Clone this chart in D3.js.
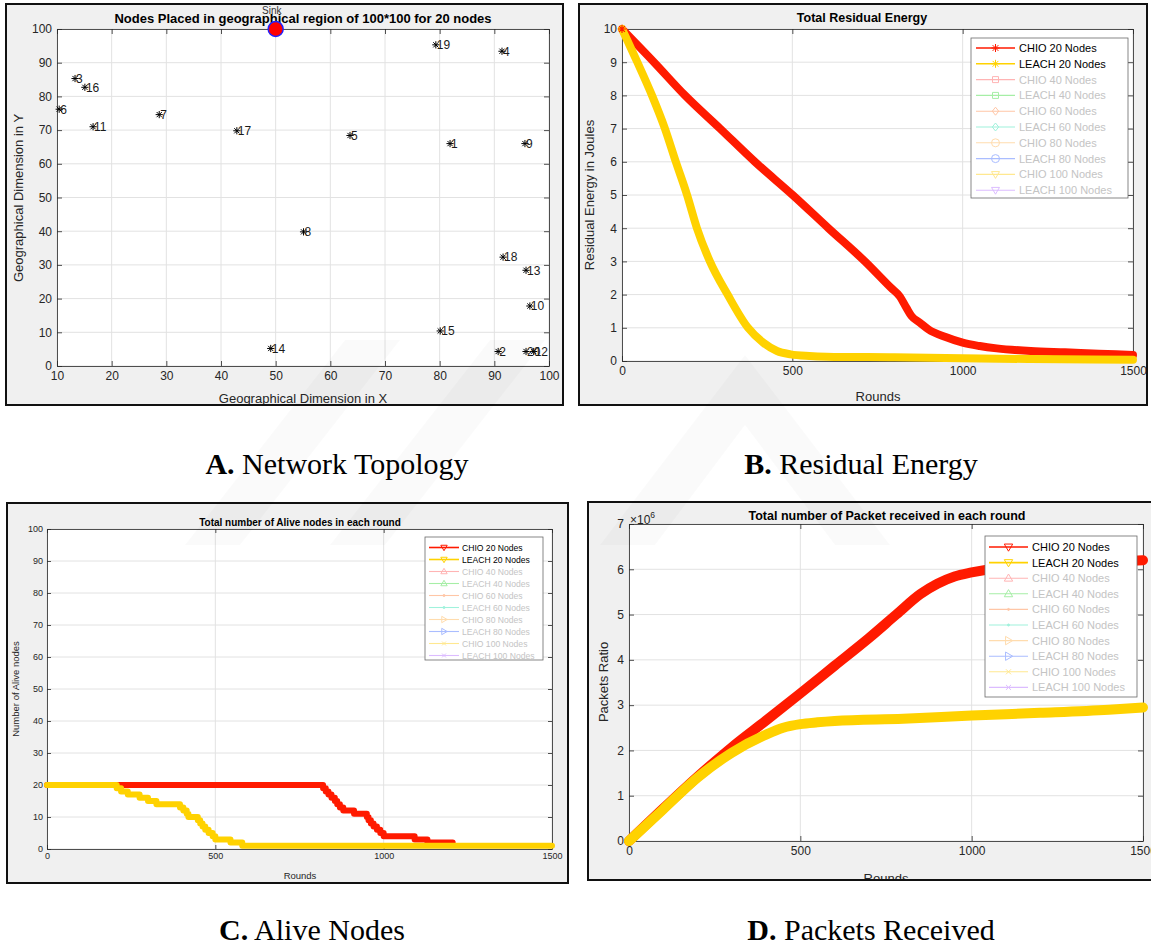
<!DOCTYPE html>
<html>
<head>
<meta charset="utf-8">
<script src="https://cdn.jsdelivr.net/npm/d3@7"></script>
<style>
  body { margin: 0; background: #fff; }
  svg { display: block; }
</style>
</head>
<body>
<script>
const W = 1151, H = 947;
const SANS = '"Liberation Sans", Arial, Helvetica, sans-serif';
const SERIF = '"Liberation Serif", "Times New Roman", serif';

// ---------- A: node placement ----------
const nodeIds = d3.range(1, 21);
const nodeX = [81.9, 90.7, 13.3, 91.4, 63.6, 10.4, 28.7, 55.1, 95.6, 96.5, 16.6, 97.2, 95.8, 49.1, 80.1, 15.1, 42.9, 91.6, 79.3, 95.8];
const nodeY = [66.0, 4.3, 85.3, 93.4, 68.4, 76.2, 74.6, 39.8, 66.0, 17.8, 71.0, 4.3, 28.4, 5.2, 10.4, 82.7, 69.8, 32.3, 95.3, 4.3];
const sinkPos = [50, 100];
const topoXTicks = d3.range(10, 101, 10);
const topoYTicks = d3.range(0, 101, 10);

// ---------- B: residual energy (J) ----------
const energyRoundsChio = [0, 94, 185, 288, 390, 501, 606, 713, 790, 815, 835, 850, 875, 900, 950, 1000, 1050, 1100, 1200, 1300, 1400, 1500];
const energyChio20 = [10, 9, 8, 7, 6, 5, 4, 3, 2.2, 1.95, 1.6, 1.35, 1.15, 0.95, 0.72, 0.55, 0.45, 0.38, 0.3, 0.26, 0.22, 0.18];
const energyRoundsLeach = [0, 45, 88, 126, 158, 191, 220, 258, 310, 370, 415, 455, 495, 550, 600, 800, 1000, 1200, 1500];
const energyLeach20 = [10, 9, 8, 7, 6, 5, 4, 3, 2, 1, 0.55, 0.3, 0.2, 0.15, 0.13, 0.11, 0.08, 0.06, 0.04];
const energyXTicks = [0, 500, 1000, 1500];
const energyYTicks = d3.range(0, 11, 1);

// ---------- C: alive nodes (step changes) ----------
const aliveRoundsChio = [0, 813, 820, 828, 836, 845, 855, 862, 870, 880, 912, 950, 955, 962, 970, 980, 990, 1000, 1092, 1130, 1205];
const aliveChio20 = [20, 20, 19, 18, 17, 16, 15, 14, 13, 12, 11, 10, 9, 8, 7, 6, 5, 4, 3, 2, 2];
const aliveRoundsLeach = [0, 207, 220, 240, 275, 300, 325, 395, 405, 415, 420, 448, 455, 462, 470, 480, 492, 500, 545, 580, 1500];
const aliveLeach20 = [20, 19, 18, 17, 16, 15, 14, 13, 12, 11, 10, 9, 8, 7, 6, 5, 4, 3, 2, 1, 1];
const aliveXTicks = [0, 500, 1000, 1500];
const aliveYTicks = d3.range(0, 101, 10);

// ---------- D: packets received ----------
const packetRoundsChio = [0, 100, 200, 250, 300, 400, 500, 600, 700, 780, 850, 900, 950, 1000, 1100, 1200, 1300, 1400, 1500];
const packetsChio20 = [0, 0.72e6, 1.42e6, 1.75e6, 2.07e6, 2.66e6, 3.26e6, 3.87e6, 4.48e6, 5.0e6, 5.45e6, 5.68e6, 5.84e6, 5.93e6, 6.05e6, 6.1e6, 6.13e6, 6.16e6, 6.2e6];
const packetRoundsLeach = [0, 100, 200, 300, 400, 450, 500, 550, 600, 800, 1000, 1200, 1400, 1500];
const packetsLeach20 = [0, 0.7e6, 1.4e6, 1.95e6, 2.35e6, 2.5e6, 2.58e6, 2.62e6, 2.65e6, 2.7e6, 2.77e6, 2.83e6, 2.9e6, 2.95e6];
const packetXTicks = [0, 500, 1000, 1500];
const packetYTicks = d3.range(0, 7e6 + 1, 1e6);

// ---------- legends ----------
const legendLabels = ['CHIO 20 Nodes', 'LEACH 20 Nodes', 'CHIO 40 Nodes', 'LEACH 40 Nodes', 'CHIO 60 Nodes',
                      'LEACH 60 Nodes', 'CHIO 80 Nodes', 'LEACH 80 Nodes', 'CHIO 100 Nodes', 'LEACH 100 Nodes'];
const legendColors = ['#ff1a00', '#ffd200', '#ffb4b4', '#a6eea6', '#ffc6a6', '#a0f2dc', '#ffdcae', '#aabdff', '#ffe890', '#dcbcff'];
const energyMarkers = ['star', 'star', 'square', 'square', 'diamond', 'diamond', 'circle', 'circle', 'tridown', 'tridown'];
const countMarkers = ['tridown', 'tridown', 'triup', 'triup', 'dot', 'dot', 'triright', 'triright', 'x', 'x'];
const activeEntries = 2;

const RED = '#ff1a00', YELLOW = '#ffd200';

const svg = d3.select('body').append('svg').attr('width', W).attr('height', H);

function markerPath(type, r) {
  switch (type) {
    case 'star': {
      const d = r * 0.72;
      return `M${-r},0L${r},0M0,${-r}L0,${r}M${-d},${-d}L${d},${d}M${-d},${d}L${d},${-d}`;
    }
    case 'square': return `M${-r * 0.75},${-r * 0.75}h${1.5 * r}v${1.5 * r}h${-1.5 * r}Z`;
    case 'diamond': return `M0,${-r}L${r * 0.8},0L0,${r}L${-r * 0.8},0Z`;
    case 'circle': return `M${r},0A${r},${r} 0 1 1 ${-r},0A${r},${r} 0 1 1 ${r},0Z`;
    case 'tridown': return `M${-r},${-r * 0.7}L${r},${-r * 0.7}L0,${r}Z`;
    case 'triup': return `M${-r},${r * 0.7}L${r},${r * 0.7}L0,${-r}Z`;
    case 'triright': return `M${-r * 0.7},${-r}L${-r * 0.7},${r}L${r},0Z`;
    case 'dot': return `M-1,0A1,1 0 1 1 1,0A1,1 0 1 1 -1,0Z`;
    case 'x': { const d = r * 0.6; return `M${-d},${-d}L${d},${d}M${-d},${d}L${d},${-d}`; }
  }
  return '';
}

function makePanel(cfg) {
  const f = cfg.frame, p = cfg.plot;
  const clipId = 'clip-' + cfg.id;
  svg.append('clipPath').attr('id', clipId)
    .append('rect').attr('x', f.x).attr('y', f.y).attr('width', f.w).attr('height', f.h);
  const g = svg.append('g').attr('clip-path', `url(#${clipId})`);
  g.append('rect').attr('x', f.x).attr('y', f.y).attr('width', f.w).attr('height', f.h).attr('fill', '#f0f0f0');
  g.append('rect').attr('x', p.x).attr('y', p.y).attr('width', p.w).attr('height', p.h).attr('fill', '#fff');

  const x = d3.scaleLinear().domain(cfg.xDomain).range([p.x, p.x + p.w]);
  const y = d3.scaleLinear().domain(cfg.yDomain).range([p.y + p.h, p.y]);

  // grid
  const grid = g.append('g');
  grid.selectAll('line.gx').data(cfg.xGrid).join('line')
    .attr('x1', d => x(d)).attr('x2', d => x(d)).attr('y1', p.y).attr('y2', p.y + p.h)
    .attr('stroke', '#e2e2e2').attr('stroke-width', 1);
  grid.selectAll('line.gy').data(cfg.yGrid).join('line')
    .attr('y1', d => y(d)).attr('y2', d => y(d)).attr('x1', p.x).attr('x2', p.x + p.w)
    .attr('stroke', '#e2e2e2').attr('stroke-width', 1);

  // axes (inward ticks, box on)
  const tk = cfg.tick || 5;
  const fs = cfg.tickFont;
  const styleAxis = (sel) => {
    sel.attr('font-family', SANS).attr('font-size', fs);
    sel.selectAll('path.domain').attr('stroke', '#262626').attr('stroke-width', 0.8);
    sel.selectAll('.tick line').attr('stroke', '#262626').attr('stroke-width', 0.8);
    sel.selectAll('.tick text').attr('fill', '#262626');
  };
  const axB = g.append('g').attr('transform', `translate(0,${p.y + p.h})`)
    .call(d3.axisBottom(x).tickValues(cfg.xTicks).tickSizeInner(-tk).tickSizeOuter(0).tickPadding(cfg.xPad || 5)
      .tickFormat(cfg.xFormat || d3.format('d')));
  styleAxis(axB);
  const axT = g.append('g').attr('transform', `translate(0,${p.y})`)
    .call(d3.axisTop(x).tickValues(cfg.xTicks).tickSizeInner(-tk).tickSizeOuter(0).tickFormat(''));
  styleAxis(axT);
  const axL = g.append('g').attr('transform', `translate(${p.x},0)`)
    .call(d3.axisLeft(y).tickValues(cfg.yTicks).tickSizeInner(-tk).tickSizeOuter(0).tickPadding(cfg.yPad || 5)
      .tickFormat(cfg.yFormat || d3.format('d')));
  styleAxis(axL);
  const axR = g.append('g').attr('transform', `translate(${p.x + p.w},0)`)
    .call(d3.axisRight(y).tickValues(cfg.yTicks).tickSizeInner(-tk).tickSizeOuter(0).tickFormat(''));
  styleAxis(axR);

  // title and axis labels
  g.append('text').attr('x', cfg.titlePos[0]).attr('y', cfg.titlePos[1])
    .attr('text-anchor', 'middle').attr('font-family', SANS).attr('font-weight', 'bold')
    .attr('font-size', cfg.titleFont).attr('fill', '#000').text(cfg.title);
  g.append('text').attr('x', cfg.xLabelPos[0]).attr('y', cfg.xLabelPos[1])
    .attr('text-anchor', 'middle').attr('font-family', SANS).attr('font-size', cfg.labelFont)
    .attr('fill', '#262626').text(cfg.xLabel);
  g.append('text').attr('transform', `translate(${cfg.yLabelPos[0]},${cfg.yLabelPos[1]}) rotate(-90)`)
    .attr('text-anchor', 'middle').attr('font-family', SANS).attr('font-size', cfg.labelFont)
    .attr('fill', '#262626').text(cfg.yLabel);

  // frame outline drawn last by caller
  const finish = () => {
    svg.append('rect').attr('x', f.x).attr('y', f.y).attr('width', f.w).attr('height', f.h)
      .attr('fill', 'none').attr('stroke', '#111').attr('stroke-width', 2);
  };
  return { g, x, y, finish };
}

function drawLegend(g, L, markers) {
  g.append('rect').attr('x', L.x).attr('y', L.y).attr('width', L.w).attr('height', L.h)
    .attr('fill', '#fff').attr('stroke', '#6a6a6a').attr('stroke-width', 0.8);
  legendLabels.forEach((lab, i) => {
    const ry = L.row0 + i * L.step;
    const col = legendColors[i];
    const active = i < activeEntries;
    g.append('line').attr('x1', L.lx1).attr('x2', L.lx2).attr('y1', ry).attr('y2', ry)
      .attr('stroke', col).attr('stroke-width', active ? 1.6 : 1.1);
    const m = markers[i];
    g.append('path').attr('transform', `translate(${(L.lx1 + L.lx2) / 2},${ry})`)
      .attr('d', markerPath(m, L.mr))
      .attr('fill', m === 'dot' ? col : 'none').attr('stroke', col).attr('stroke-width', 1);
    g.append('text').attr('x', L.tx).attr('y', ry).attr('dy', '0.36em')
      .attr('font-family', SANS).attr('font-size', L.font)
      .attr('fill', active ? '#000' : '#c4c4c4').text(lab);
  });
}

function drawSeries(g, line, xs, ys, color, width) {
  const pts = xs.map((d, i) => [d, ys[i]]);
  g.append('path').datum(pts).attr('d', line)
    .attr('fill', 'none').attr('stroke', color).attr('stroke-width', width)
    .attr('stroke-linejoin', 'round').attr('stroke-linecap', 'round');
}

// ================= Panel A =================
{
  const P = makePanel({
    id: 'a', frame: { x: 6, y: 4, w: 557, h: 401 }, plot: { x: 57, y: 29, w: 492, h: 337 },
    xDomain: [10, 100], yDomain: [0, 100], xTicks: topoXTicks, yTicks: topoYTicks,
    xGrid: topoXTicks, yGrid: topoYTicks, tickFont: 12,
    title: 'Nodes Placed in geographical region of 100*100 for 20 nodes', titlePos: [303, 23], titleFont: 13,
    xLabel: 'Geographical Dimension in X', xLabelPos: [303, 403], yLabel: 'Geographical Dimension in Y', yLabelPos: [23, 198],
    labelFont: 13
  });
  const { g, x, y } = P;
  const nodes = nodeIds.map((id, i) => ({ id, x: nodeX[i], y: nodeY[i] }));
  g.selectAll('path.node').data(nodes).join('path')
    .attr('transform', d => `translate(${x(d.x)},${y(d.y)})`)
    .attr('d', markerPath('star', 3.6)).attr('fill', 'none').attr('stroke', '#000').attr('stroke-width', 1);
  g.selectAll('text.node').data(nodes).join('text')
    .attr('x', d => x(d.x) + 1).attr('y', d => y(d.y)).attr('dy', '0.36em')
    .attr('font-family', SANS).attr('font-size', 12).attr('fill', '#1a1a1a').text(d => d.id);
  g.append('circle').attr('cx', x(sinkPos[0])).attr('cy', y(sinkPos[1])).attr('r', 7.5)
    .attr('fill', '#ff0000').attr('stroke', '#2020ff').attr('stroke-width', 1.5);
  g.append('text').attr('x', x(47.5)).attr('y', y(105.5)).attr('dy', '0.36em')
    .attr('font-family', SANS).attr('font-size', 10).attr('fill', '#333').text('Sink');
  P.finish();
}

// ================= Panel B =================
{
  const P = makePanel({
    id: 'b', frame: { x: 579, y: 4, w: 568, h: 401 }, plot: { x: 622, y: 29, w: 511, h: 332 },
    xDomain: [0, 1500], yDomain: [0, 10], xTicks: energyXTicks, yTicks: energyYTicks,
    xGrid: energyXTicks, yGrid: energyYTicks, tickFont: 12,
    title: 'Total Residual Energy', titlePos: [862, 22], titleFont: 12.5,
    xLabel: 'Rounds', xLabelPos: [878, 401], yLabel: 'Residual Energy in Joules', yLabelPos: [594, 195],
    labelFont: 13
  });
  const { g, x, y } = P;
  const line = d3.line().x(d => x(d[0])).y(d => y(d[1])).curve(d3.curveMonotoneX);
  drawSeries(g, line, energyRoundsChio, energyChio20, RED, 8);
  drawSeries(g, line, energyRoundsLeach, energyLeach20, YELLOW, 8);
  g.append('path').attr('transform', `translate(${x(0)},${y(10)})`).attr('d', markerPath('star', 4))
    .attr('stroke', RED).attr('stroke-width', 1.2).attr('fill', 'none');
  drawLegend(g, { x: 971, y: 38, w: 157, h: 160, row0: 48, step: 15.8, lx1: 976, lx2: 1015, tx: 1019, font: 11, mr: 4 }, energyMarkers);
  P.finish();
}

// ================= Panel C =================
{
  const P = makePanel({
    id: 'c', frame: { x: 7, y: 503, w: 561, h: 380 }, plot: { x: 47, y: 529, w: 505, h: 320 },
    xDomain: [0, 1500], yDomain: [0, 100], xTicks: aliveXTicks, yTicks: aliveYTicks,
    xGrid: aliveXTicks, yGrid: aliveYTicks, tickFont: 9, tick: 4, xPad: 4, yPad: 4,
    title: 'Total number of Alive nodes in each round', titlePos: [300, 526], titleFont: 10,
    xLabel: 'Rounds', xLabelPos: [300, 879], yLabel: 'Number of Alive nodes', yLabelPos: [19, 689],
    labelFont: 9.5
  });
  const { g, x, y } = P;
  const line = d3.line().x(d => x(d[0])).y(d => y(d[1])).curve(d3.curveStepAfter);
  drawSeries(g, line, aliveRoundsChio, aliveChio20, RED, 6);
  drawSeries(g, line, aliveRoundsLeach, aliveLeach20, YELLOW, 6);
  drawLegend(g, { x: 425, y: 537, w: 118, h: 123, row0: 547.5, step: 12, lx1: 429, lx2: 459, tx: 462, font: 8.6, mr: 3.2 }, countMarkers);
  P.finish();
}

// ================= Panel D =================
{
  const P = makePanel({
    id: 'd', frame: { x: 588, y: 502, w: 575, h: 378 }, plot: { x: 629, y: 524, w: 514, h: 317 },
    xDomain: [0, 1500], yDomain: [0, 7e6], xTicks: packetXTicks, yTicks: packetYTicks,
    xGrid: packetXTicks, yGrid: packetYTicks, tickFont: 12,
    yFormat: d => d3.format('d')(d / 1e6),
    title: 'Total number of Packet received in each round', titlePos: [887, 520], titleFont: 12.5,
    xLabel: 'Rounds', xLabelPos: [886, 883], yLabel: 'Packets Ratio', yLabelPos: [608, 682],
    labelFont: 13
  });
  const { g, x, y } = P;
  const line = d3.line().x(d => x(d[0])).y(d => y(d[1])).curve(d3.curveMonotoneX);
  drawSeries(g, line, packetRoundsChio, packetsChio20, RED, 10);
  drawSeries(g, line, packetRoundsLeach, packetsLeach20, YELLOW, 10);
  const ex = g.append('text').attr('x', 630).attr('y', 524).attr('font-family', SANS).attr('font-size', 12).attr('fill', '#262626');
  ex.append('tspan').text('\u00d710');
  ex.append('tspan').attr('dy', -6).attr('font-size', 8.5).text('6');
  drawLegend(g, { x: 985, y: 536, w: 152, h: 161, row0: 547, step: 15.6, lx1: 989, lx2: 1028, tx: 1032, font: 11, mr: 4.2 }, countMarkers);
  P.finish();
}

// ================= Captions =================
const captions = [
  { letter: 'A.', text: ' Network Topology', cx: 337, by: 474 },
  { letter: 'B.', text: ' Residual Energy', cx: 861, by: 474 },
  { letter: 'C.', text: ' Alive Nodes', cx: 312, by: 940 },
  { letter: 'D.', text: ' Packets Received', cx: 871, by: 940 }
];
captions.forEach(c => {
  const t = svg.append('text').attr('x', c.cx).attr('y', c.by).attr('text-anchor', 'middle')
    .attr('font-family', SERIF).attr('font-size', 30).attr('fill', '#000');
  t.append('tspan').attr('font-weight', 'bold').text(c.letter);
  t.append('tspan').text(c.text);
});

// faint background emblem
svg.append('path')
  .attr('d', 'M185,545 L240,545 L400,340 L345,340 Z M330,545 L385,545 L545,340 L490,340 Z ' +
             'M600,545 L745,355 L890,545 L835,545 L745,425 L655,545 Z')
  .attr('fill', '#000').attr('opacity', 0.02).attr('pointer-events', 'none');
</script>
</body>
</html>
